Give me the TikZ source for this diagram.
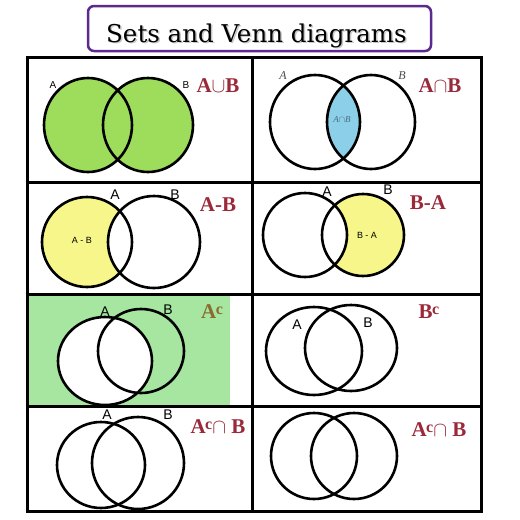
\documentclass[tikz,border=0pt]{standalone}
\usepackage{fontspec}
\setmainfont{Liberation Serif}
\setsansfont{Liberation Sans}
\newfontfamily\titlefont{DejaVu Serif}
\definecolor{titlepurple}{HTML}{5B2A91}
\definecolor{opred}{HTML}{9A2A3A}
\definecolor{opolive}{HTML}{8A6A30}
\definecolor{uniongreen}{HTML}{9EDC5C}
\definecolor{capblue}{HTML}{8CCFE8}
\definecolor{diffyellow}{HTML}{F6F68A}
\definecolor{compgreen}{HTML}{A6E6A0}
\definecolor{innergray}{HTML}{4A6A78}
\newcommand{\compl}{\kern-0.5pt\raisebox{0.45ex}{\fontsize{16}{16}\selectfont c}}
\tikzset{
  gridline/.style={line width=3pt},
  venn/.style={line width=2.6pt},
  setlbl/.style={font=\sffamily\fontsize{14}{14}\selectfont},
  smalllbl/.style={font=\sffamily\fontsize{10}{10}\selectfont},
  innerlbl/.style={font=\sffamily\fontsize{9}{9}\selectfont},
  oplbl/.style={font=\bfseries\fontsize{21}{21}\selectfont,text=opred},
}

\begin{document}
\begin{tikzpicture}[x=1pt,y=-1pt]
  \useasboundingbox (0,0) rectangle (520,520);
  \fill[white] (0,0) rectangle (520,520);

  \draw[line width=2.5pt,draw=titlepurple,rounded corners=6pt] (88,6) rectangle (431,51);
  \node[anchor=base,text=black!22,font=\titlefont\fontsize{24.5}{24.5}\selectfont] (titleshadow) at (258,43.5) {Sets and Venn diagrams};
  \node[anchor=base,font=\titlefont\fontsize{24.5}{24.5}\selectfont] (title) at (256.5,42) {Sets and Venn diagrams};

  % A union B
  \fill[uniongreen] (88,125) ellipse [x radius=44,y radius=47];
  \fill[uniongreen] (148,125) ellipse [x radius=45,y radius=47];
  \draw[venn] (88,125) ellipse [x radius=44,y radius=47];
  \draw[venn] (148,125) ellipse [x radius=45,y radius=47];
  \node[smalllbl] (a1) at (53,85) {A};
  \node[smalllbl] (b1) at (186,85) {B};
  \node[oplbl] (op1) at (218,86) {A$\cup$B};

  % A intersect B
  \begin{scope}
    \clip (315,122) ellipse [x radius=45,y radius=47];
    \fill[capblue] (371,122) ellipse [x radius=44,y radius=47];
  \end{scope}
  \draw[venn] (315,122) ellipse [x radius=45,y radius=47];
  \draw[venn] (371,122) ellipse [x radius=44,y radius=47];
  \node[font=\itshape\fontsize{12}{12}\selectfont,text=black!70] (a2) at (283,76) {A};
  \node[font=\itshape\fontsize{12}{12}\selectfont,text=black!70] (b2) at (402,76) {B};
  \node[font=\itshape\fontsize{9}{9}\selectfont,text=innergray] (in2) at (342,120) {A$\cap$B};
  \node[oplbl] (op2) at (440,86) {A$\cap$B};

  % A minus B
  \fill[diffyellow] (87,242) circle [radius=45];
  \begin{scope}
    \clip (87,242) circle [radius=45];
    \fill[white] (154,242) circle [radius=46];
  \end{scope}
  \draw[venn] (87,242) circle [radius=45];
  \draw[venn] (154,242) circle [radius=46];
  \node[setlbl] (a3) at (115,195) {A};
  \node[setlbl] (b3) at (175,195) {B};
  \node[innerlbl] (in3) at (82,240) {A - B};
  \node[oplbl] (op3) at (218,205) {A-B};

  % B minus A
  \fill[diffyellow] (363,235) circle [radius=41];
  \begin{scope}
    \clip (363,235) circle [radius=41];
    \fill[white] (305,235) circle [radius=42];
  \end{scope}
  \draw[venn] (305,235) circle [radius=42];
  \draw[venn] (363,235) circle [radius=41];
  \node[setlbl] (a4) at (327,192) {A};
  \node[setlbl] (b4) at (388,190) {B};
  \node[innerlbl] (in4) at (367,235) {B - A};
  \node[oplbl] (op4) at (428,203) {B-A};

  % complement of A
  \fill[compgreen] (27,294) rectangle (230,406);
  \fill[white] (105,361) ellipse [x radius=47,y radius=44];
  \draw[venn] (105,361) ellipse [x radius=47,y radius=44];
  \draw[venn] (141,351) ellipse [x radius=43,y radius=42];
  \node[setlbl] (a5) at (105,312) {A};
  \node[setlbl] (b5) at (168,310) {B};
  \node[oplbl,text=opolive] (op5) at (212,312) {A\compl};

  % complement of B
  \draw[venn] (314,351) ellipse [x radius=48,y radius=44];
  \draw[venn] (351,348) ellipse [x radius=46,y radius=43];
  \node[setlbl] (a6) at (297,325) {A};
  \node[setlbl] (b6) at (368,323) {B};
  \node[oplbl] (op6) at (429,312) {B\compl};

  % A complement intersect B
  \draw[venn] (101,465) ellipse [x radius=44,y radius=43];
  \draw[venn] (138,463) ellipse [x radius=46,y radius=46];
  \node[setlbl] (a7) at (107,415) {A};
  \node[setlbl] (b7) at (168,415) {B};
  \node[oplbl] (op7) at (218,427) {A\compl$\cap$ B};

  \draw[venn] (314,456) circle [radius=43];
  \draw[venn] (354,456) circle [radius=43];
  \node[oplbl] (op8) at (439,430) {A\compl$\cap$ B};

  % grid
  \draw[gridline] (27,57) rectangle (481,511);
  \draw[gridline] (252,57) -- (252,511);
  \draw[gridline] (27,182) -- (481,182);
  \draw[gridline] (27,294) -- (481,294);
  \draw[gridline] (27,406) -- (481,406);
\end{tikzpicture}
\end{document}
